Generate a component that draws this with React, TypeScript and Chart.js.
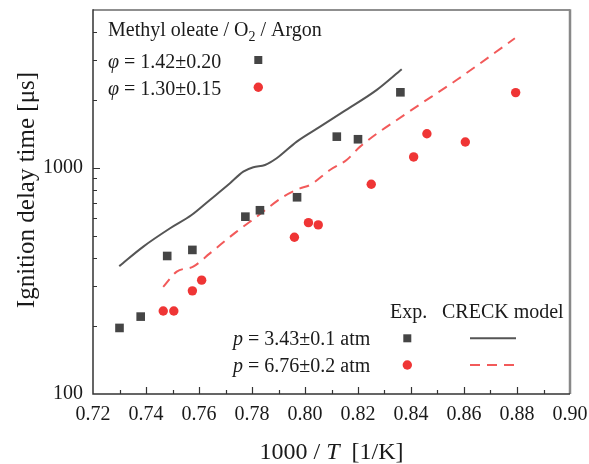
import React, { useEffect, useRef } from 'react';
import { Chart, registerables } from 'chart.js';

Chart.register(...registerables);

// Experimental data, p = 3.43 atm (squares)
const sqX = [0.730, 0.738, 0.748, 0.7575, 0.7775, 0.783, 0.797, 0.812, 0.820, 0.836];
const sqY = [196, 220, 408, 434, 609, 650, 742, 1376, 1340, 2162];

// Experimental data, p = 6.76 atm (circles)
const ciX = [0.7465, 0.7505, 0.7575, 0.761, 0.796, 0.8013, 0.805, 0.825, 0.841, 0.846, 0.8605, 0.8795];
const ciY = [233, 233, 286, 319, 494, 573, 560, 847, 1119, 1418, 1303, 2155];

// CRECK model, p = 3.43 atm (solid)
const modelAX = [0.7299, 0.739, 0.7491, 0.7572, 0.7641, 0.7717, 0.7767, 0.7805, 0.7849, 0.7893, 0.7969, 0.8057, 0.8145, 0.8271, 0.8365];
const modelAY = [368, 449, 541, 619, 722, 856, 963, 1007, 1031, 1104, 1308, 1523, 1775, 2215, 2734];

// CRECK model, p = 6.76 atm (dashed)
const modelBX = [0.7465, 0.7516, 0.7578, 0.7641, 0.7742, 0.7818, 0.7918, 0.7981, 0.8019, 0.8094, 0.8157, 0.8208, 0.8384, 0.8572, 0.8792];
const modelBY = [298, 348, 366, 419, 523, 609, 746, 813, 841, 980, 1085, 1243, 1746, 2450, 3748];

const xMajorTicks = [0.74, 0.76, 0.78, 0.80, 0.82, 0.84, 0.86, 0.88];
const xMinorTicks = [0.73, 0.75, 0.77, 0.79, 0.81, 0.83, 0.85, 0.87, 0.89];
const yMajorTicks = [1000];
const yMinorTicks = [200, 300, 400, 500, 600, 700, 800, 900, 2000, 3000, 4000];

const SERIF = '"Liberation Serif", "Times New Roman", serif';
const TEXT = '#1a1a1a';
const SQ_COLOR = '#454545';
const CI_COLOR = '#ef3535';
const LINE_A = '#555555';
const LINE_B = '#f25a5a';

const toPts = (xs: number[], ys: number[]) => xs.map((x, i) => ({ x, y: ys[i] }));

type Part = { t: string; italic?: boolean; sub?: boolean };

function drawParts(ctx: CanvasRenderingContext2D, parts: Part[], x: number, y: number, size: number, measureOnly = false): number {
  let cx = x;
  for (const p of parts) {
    const fs = p.sub ? Math.round(size * 0.68) : size;
    ctx.font = `${p.italic ? 'italic ' : ''}${fs}px ${SERIF}`;
    const yy = p.sub ? y + size * 0.25 : y;
    if (!measureOnly) ctx.fillText(p.t, cx, yy);
    cx += ctx.measureText(p.t).width;
  }
  return cx - x;
}

const decorPlugin = {
  id: 'decor',
  afterDraw(chart: any) {
    const { ctx, chartArea } = chart;
    const xs = chart.scales.x;
    const ys = chart.scales.y;
    const { left, right, top, bottom } = chartArea;
    ctx.save();

    // frame
    ctx.lineCap = 'butt';
    ctx.strokeStyle = '#6a6a6a';
    ctx.lineWidth = 1.5;
    ctx.beginPath();
    ctx.moveTo(left, top);
    ctx.lineTo(right, top);
    ctx.stroke();
    ctx.strokeStyle = '#888888';
    ctx.lineWidth = 2.5;
    ctx.beginPath();
    ctx.moveTo(right, top - 0.75);
    ctx.lineTo(right, bottom);
    ctx.stroke();
    ctx.strokeStyle = '#333333';
    ctx.lineWidth = 1.5;
    ctx.beginPath();
    ctx.moveTo(left, top - 0.75);
    ctx.lineTo(left, bottom);
    ctx.lineTo(right, bottom);
    ctx.stroke();

    // inward ticks
    ctx.lineWidth = 1.2;
    ctx.strokeStyle = '#333333';
    ctx.beginPath();
    for (const v of xMajorTicks) {
      const px = Math.round(xs.getPixelForValue(v)) + 0.5;
      ctx.moveTo(px, bottom);
      ctx.lineTo(px, bottom - 7);
    }
    for (const v of xMinorTicks) {
      const px = Math.round(xs.getPixelForValue(v)) + 0.5;
      ctx.moveTo(px, bottom);
      ctx.lineTo(px, bottom - 4);
    }
    for (const v of yMajorTicks) {
      const py = Math.round(ys.getPixelForValue(v)) + 0.5;
      ctx.moveTo(left, py);
      ctx.lineTo(left + 7, py);
    }
    for (const v of yMinorTicks) {
      const py = Math.round(ys.getPixelForValue(v)) + 0.5;
      ctx.moveTo(left, py);
      ctx.lineTo(left + 4, py);
    }
    ctx.stroke();

    ctx.fillStyle = TEXT;
    ctx.textBaseline = 'alphabetic';
    ctx.textAlign = 'left';

    // top-left legend
    drawParts(ctx, [{ t: 'Methyl oleate / O' }, { t: '2', sub: true }, { t: ' / Argon' }], 108, 36, 20);
    drawParts(ctx, [{ t: 'φ', italic: true }, { t: ' = 1.42±0.20' }], 108, 68, 20);
    drawParts(ctx, [{ t: 'φ', italic: true }, { t: ' = 1.30±0.15' }], 108, 95, 20);
    ctx.fillStyle = SQ_COLOR;
    ctx.fillRect(258.3 - 4, 60 - 4, 8, 8);
    ctx.fillStyle = CI_COLOR;
    ctx.beginPath();
    ctx.arc(258.3, 87.3, 4.7, 0, Math.PI * 2);
    ctx.fill();

    // bottom-right legend
    ctx.fillStyle = TEXT;
    drawParts(ctx, [{ t: 'Exp.' }], 390, 318, 20);
    drawParts(ctx, [{ t: 'CRECK model' }], 442, 318, 20);
    drawParts(ctx, [{ t: 'p', italic: true }, { t: ' = 3.43±0.1 atm' }], 233, 345, 20);
    drawParts(ctx, [{ t: 'p', italic: true }, { t: ' = 6.76±0.2 atm' }], 233, 372, 20);
    ctx.fillStyle = SQ_COLOR;
    ctx.fillRect(407.3 - 4, 338.3 - 4, 8, 8);
    ctx.fillStyle = CI_COLOR;
    ctx.beginPath();
    ctx.arc(407.3, 365, 4.7, 0, Math.PI * 2);
    ctx.fill();
    ctx.lineWidth = 2;
    ctx.strokeStyle = LINE_A;
    ctx.beginPath();
    ctx.moveTo(470, 338.3);
    ctx.lineTo(516, 338.3);
    ctx.stroke();
    ctx.strokeStyle = LINE_B;
    ctx.setLineDash([10, 7]);
    ctx.beginPath();
    ctx.moveTo(470, 365);
    ctx.lineTo(516, 365);
    ctx.stroke();
    ctx.setLineDash([]);

    // axis titles
    ctx.fillStyle = TEXT;
    const xTitle: Part[] = [{ t: '1000 / ' }, { t: 'T', italic: true }, { t: '  [1/K]' }];
    const w = drawParts(ctx, xTitle, 0, 0, 24, true);
    drawParts(ctx, xTitle, (left + right) / 2 - w / 2, 459, 24);

    ctx.save();
    ctx.translate(34, 190);
    ctx.rotate(-Math.PI / 2);
    const yTitle: Part[] = [{ t: 'Ignition delay time [μs]' }];
    const wy = drawParts(ctx, yTitle, 0, 0, 25, true);
    drawParts(ctx, yTitle, -wy / 2, 0, 25);
    ctx.restore();

    ctx.restore();
  },
};

export default function App() {
  const ref = useRef<HTMLCanvasElement>(null);
  useEffect(() => {
    const canvas = ref.current!;
    const chart = new Chart(canvas, {
      type: 'scatter',
      data: {
        datasets: [
          {
            label: 'CRECK 3.43 atm',
            data: toPts(modelAX, modelAY),
            showLine: true,
            borderColor: LINE_A,
            borderWidth: 2,
            pointRadius: 0,
            cubicInterpolationMode: 'monotone',
            order: 3,
          },
          {
            label: 'CRECK 6.76 atm',
            data: toPts(modelBX, modelBY),
            showLine: true,
            borderColor: LINE_B,
            borderWidth: 2,
            borderDash: [10, 7],
            pointRadius: 0,
            cubicInterpolationMode: 'monotone',
            order: 2,
          },
          {
            label: 'Exp. 3.43 atm',
            data: toPts(sqX, sqY),
            pointStyle: 'rect',
            pointRadius: 6.1,
            backgroundColor: SQ_COLOR,
            borderWidth: 0,
            order: 1,
          },
          {
            label: 'Exp. 6.76 atm',
            data: toPts(ciX, ciY),
            pointStyle: 'circle',
            pointRadius: 4.7,
            backgroundColor: CI_COLOR,
            borderWidth: 0,
            order: 0,
          },
        ],
      } as any,
      options: {
        animation: false,
        responsive: false,
        layout: { padding: { left: 0, right: 19, top: 10, bottom: 0 } },
        plugins: { legend: { display: false }, tooltip: { enabled: false } },
        scales: {
          x: {
            type: 'linear',
            min: 0.72,
            max: 0.9,
            afterFit: (s: any) => { s.height = 70; s.paddingLeft = 0; s.paddingRight = 0; },
            grid: { display: false },
            border: { display: false },
            ticks: {
              stepSize: 0.02,
              autoSkip: false,
              maxRotation: 0,
              padding: 1,
              color: TEXT,
              font: { family: SERIF, size: 20 },
              callback: (v: any) => Number(v).toFixed(2),
            },
          },
          y: {
            type: 'logarithmic',
            min: 100,
            max: 5000,
            afterFit: (s: any) => { s.width = 93; s.paddingTop = 0; s.paddingBottom = 0; },
            grid: { display: false },
            border: { display: false },
            ticks: {
              autoSkip: false,
              padding: 2,
              color: TEXT,
              font: { family: SERIF, size: 20 },
              callback: (v: any) => (v === 100 || v === 1000 ? String(v) : ''),
            },
          },
        },
      } as any,
      plugins: [decorPlugin],
    });
    return () => chart.destroy();
  }, []);
  return (
    <div style={{ position: 'fixed', left: 0, top: 0, width: 589, height: 464, background: '#fff' }}>
      <canvas ref={ref} width={589} height={464} style={{ display: 'block' }} />
    </div>
  );
}
